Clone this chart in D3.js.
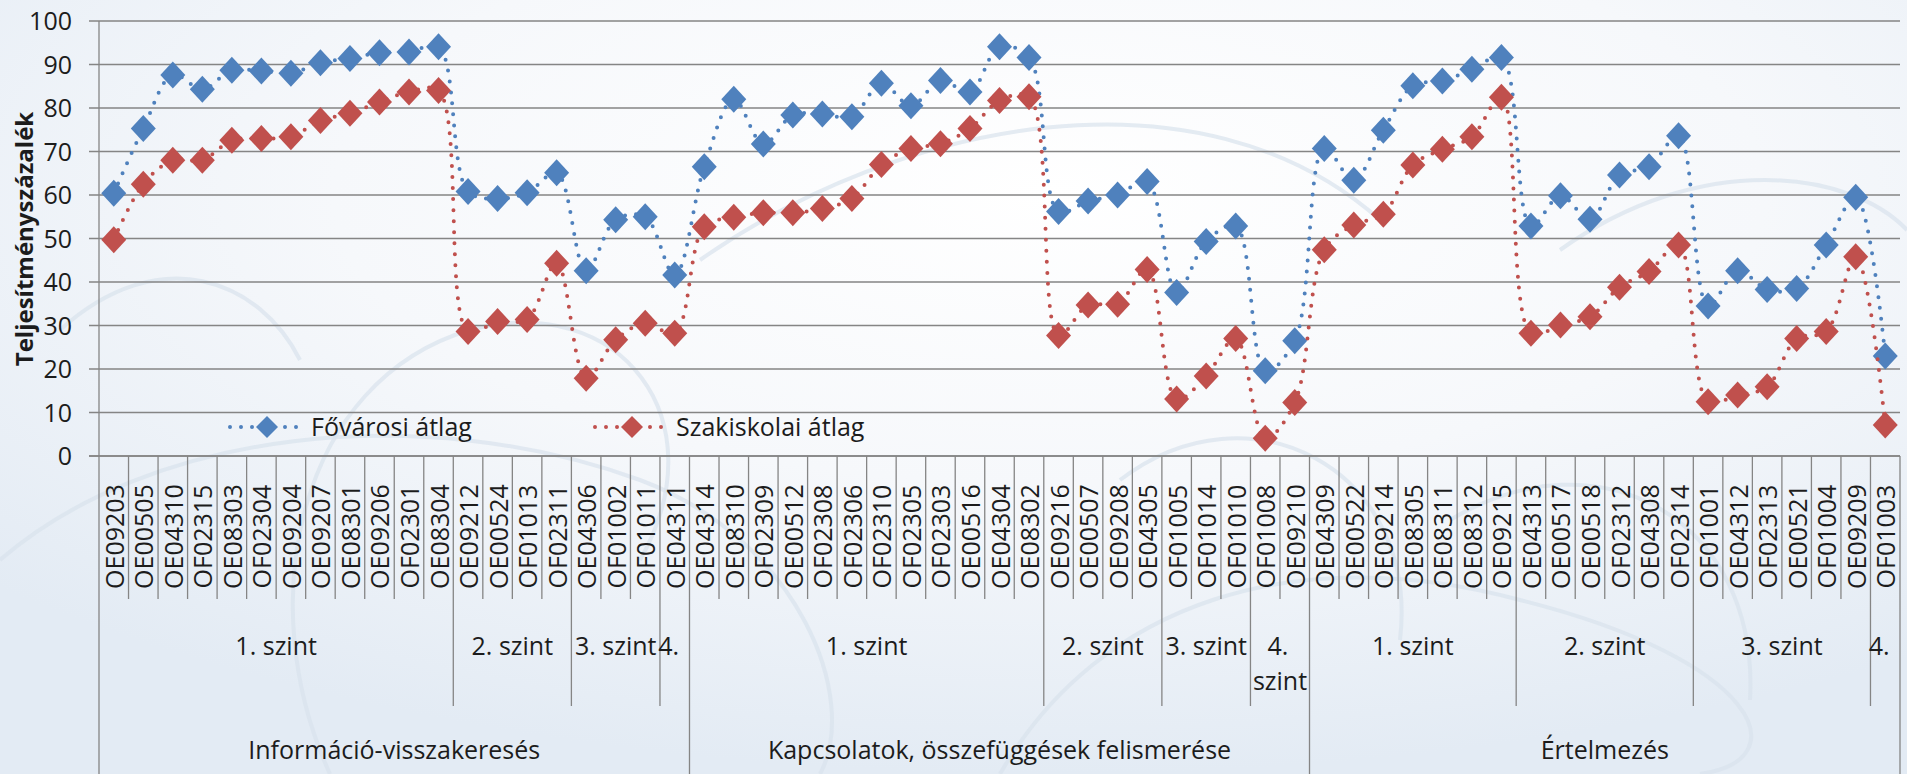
<!DOCTYPE html>
<html>
<head>
<meta charset="utf-8">
<script src="https://cdn.jsdelivr.net/npm/d3@7"></script>
<style>
  body { margin: 0; overflow: hidden; background: #fff; }
  text { font-family: "Open Sans", sans-serif; fill: #1c1c1c; }
</style>
</head>
<body>
<script>
const categories = [
  "OE09203","OE00505","OE04310","OF02315","OE08303","OF02304","OE09204","OE09207","OE08301","OE09206",
  "OF02301","OE08304","OE09212","OE00524","OF01013","OF02311","OE04306","OF01002","OF01011","OE04311",
  "OE04314","OE08310","OF02309","OE00512","OF02308","OF02306","OF02310","OF02305","OF02303","OE00516",
  "OE04304","OE08302","OE09216","OE00507","OE09208","OE04305","OF01005","OF01014","OF01010","OF01008",
  "OE09210","OE04309","OE00522","OE09214","OE08305","OE08311","OE08312","OE09215","OE04313","OE00517",
  "OE00518","OF02312","OE04308","OF02314","OF01001","OE04312","OF02313","OE00521","OF01004","OE09209",
  "OF01003"
];

const fovarosi = [
  60.4, 75.3, 87.6, 84.3, 88.7, 88.5, 88.0, 90.4, 91.4, 92.7,
  92.9, 94.1, 60.8, 59.2, 60.5, 65.1, 42.6, 54.3, 55.0, 41.6,
  66.5, 82.0, 71.7, 78.4, 78.6, 78.0, 85.7, 80.5, 86.3, 83.7,
  94.1, 91.6, 56.2, 58.6, 60.0, 63.1, 37.6, 49.3, 52.9, 19.6,
  26.5, 70.7, 63.4, 74.9, 85.1, 86.2, 88.9, 91.6, 52.9, 59.8,
  54.4, 64.6, 66.5, 73.6, 34.5, 42.6, 38.3, 38.5, 48.5, 59.5,
  23.0
];

const szakiskolai = [
  49.7, 62.5, 68.0, 68.0, 72.6, 73.0, 73.4, 77.1, 78.8, 81.4,
  83.7, 84.0, 28.6, 30.9, 31.4, 44.3, 17.9, 26.7, 30.5, 28.2,
  52.7, 54.9, 55.9, 55.9, 56.9, 59.2, 67.0, 70.7, 71.8, 75.3,
  81.7, 82.6, 27.7, 34.7, 34.9, 42.9, 13.1, 18.4, 27.0, 4.1,
  12.3, 47.4, 53.1, 55.6, 66.9, 70.5, 73.4, 82.5, 28.2, 30.1,
  32.0, 38.8, 42.4, 48.5, 12.5, 14.0, 15.9, 27.0, 28.6, 45.8,
  7.1
];

// [label, number of categories]
const szintek = [
  ["1. szint", 12], ["2. szint", 4], ["3. szint", 3], ["4. szint", 1],
  ["1. szint", 12], ["2. szint", 4], ["3. szint", 3], ["4. szint", 2],
  ["1. szint", 7], ["2. szint", 6], ["3. szint", 6], ["4. szint", 1]
];
const teruletek = [
  ["Információ-visszakeresés", 20],
  ["Kapcsolatok, összefüggések felismerése", 21],
  ["Értelmezés", 20]
];

const yTicks = [0, 10, 20, 30, 40, 50, 60, 70, 80, 90, 100];
const seriesNames = ["Fővárosi átlag", "Szakiskolai átlag"];
const seriesColors = ["#4F81BD", "#C0504D"];
const yTitle = "Teljesítményszázalék";

const width = 1907, height = 774;
const plotLeft = 99, plotRight = 1900, plotTop = 21, plotBottom = 456;

const svg = d3.select("body").append("svg")
  .attr("width", width)
  .attr("height", height);

// background wash
const defs = svg.append("defs");
const grad = defs.append("radialGradient").attr("id", "bg")
  .attr("cx", "0.55").attr("cy", "0.25").attr("r", "0.75");
grad.append("stop").attr("offset", "0").attr("stop-color", "#ffffff");
grad.append("stop").attr("offset", "0.5").attr("stop-color", "#f6f8fb");
grad.append("stop").attr("offset", "1").attr("stop-color", "#e3ebf4");
svg.append("rect").attr("width", width).attr("height", height).attr("fill", "url(#bg)");

// faint decorative swirls
const swirls = [
  "M0,560 C150,430 420,400 640,480 C800,540 860,700 820,774",
  "M330,774 C250,600 300,380 470,330 C620,290 720,420 640,560",
  "M700,260 C900,120 1200,60 1380,220",
  "M1000,774 C1100,600 1300,540 1520,600 C1760,660 1800,760 1700,774",
  "M1450,520 C1600,430 1760,520 1750,700",
  "M60,330 C160,240 260,280 300,360",
  "M1120,480 C1250,380 1420,470 1400,640",
  "M1560,250 C1700,150 1850,170 1907,230"
];
svg.append("g").selectAll("path").data(swirls).join("path")
  .attr("d", d => d)
  .attr("fill", "none")
  .attr("stroke", "#d9e2ec")
  .attr("stroke-width", 4)
  .attr("opacity", 0.7);

const x = d3.scaleBand()
  .domain(d3.range(categories.length))
  .range([plotLeft, plotRight]);

const y = d3.scaleLinear()
  .domain([0, 100])
  .range([plotBottom, plotTop]);

// gridlines
svg.append("g").selectAll("line").data(yTicks).join("line")
  .attr("x1", plotLeft - 10).attr("x2", plotRight)
  .attr("y1", d => y(d)).attr("y2", d => y(d))
  .attr("stroke", "#858585").attr("stroke-width", 1.6);

// y axis labels
svg.append("g").selectAll("text").data(yTicks).join("text")
  .attr("x", 72).attr("y", d => y(d))
  .attr("dy", "0.36em")
  .attr("text-anchor", "end")
  .style("font-size", "25px")
  .text(d => d);

// y axis title
svg.append("text")
  .attr("transform", `translate(33,239) rotate(-90)`)
  .attr("text-anchor", "middle")
  .style("font-size", "24px")
  .style("font-weight", "bold")
  .text(yTitle);

// category axis: boundaries and their depth
const lvl2Bounds = new Set([0]);
let acc = 0;
szintek.forEach(([, n]) => { acc += n; lvl2Bounds.add(acc); });
const lvl3Bounds = new Set([0]);
acc = 0;
teruletek.forEach(([, n]) => { acc += n; lvl3Bounds.add(acc); });

const bounds = d3.range(categories.length + 1);
const bx = i => (i === categories.length ? plotRight : x(i));
const axisG = svg.append("g").attr("stroke", "#858585").attr("stroke-width", 1.3);
axisG.selectAll("line").data(bounds).join("line")
  .attr("x1", bx).attr("x2", bx)
  .attr("y1", i => (i === 0 ? plotTop : plotBottom))
  .attr("y2", i => lvl3Bounds.has(i) ? height : lvl2Bounds.has(i) ? 706 : 599);
axisG.append("line")
  .attr("x1", plotLeft - 10).attr("x2", plotRight)
  .attr("y1", plotBottom).attr("y2", plotBottom);

// level 1 labels (rotated)
svg.append("g").selectAll("text").data(categories).join("text")
  .attr("transform", (d, i) => `translate(${x(i) + x.bandwidth() / 2 + 1},536.5) rotate(-90)`)
  .attr("text-anchor", "middle")
  .attr("dy", "0.36em")
  .style("font-size", "25px")
  .text(d => d);

// level 2 labels
let start = 0;
const lvl2 = szintek.map(([label, n]) => {
  const o = { label, x0: x(start), x1: start + n === categories.length ? plotRight : x(start + n), n };
  start += n;
  return o;
});
const l2g = svg.append("g");
lvl2.forEach(d => {
  const cx = (d.x0 + d.x1) / 2;
  const t = l2g.append("text")
    .attr("text-anchor", "middle")
    .style("font-size", "25px");
  if (d.n === 1) {
    t.attr("x", cx - 6).attr("y", 655).text(d.label.split(" ")[0]);
  } else if (d.n === 2) {
    const parts = d.label.split(" ");
    t.append("tspan").attr("x", cx - 2).attr("y", 655).text(parts[0]);
    t.append("tspan").attr("x", cx).attr("y", 690).text(parts[1]);
  } else {
    t.attr("x", cx).attr("y", 655).text(d.label);
  }
});

// level 3 labels
start = 0;
svg.append("g").selectAll("text").data(teruletek).join("text")
  .attr("x", d => {
    const x0 = x(start);
    start += d[1];
    const x1 = start === categories.length ? plotRight : x(start);
    return (x0 + x1) / 2;
  })
  .attr("y", 759)
  .attr("text-anchor", "middle")
  .style("font-size", "25px")
  .text(d => d[0]);

// series
const diamond = "M0,-13.5L12.5,0L0,13.5L-12.5,0Z";
const line = d3.line()
  .x((d, i) => x(i) + x.bandwidth() / 2)
  .y(d => y(d))
  .curve(d3.curveCatmullRom.alpha(0.5));

[fovarosi, szakiskolai].forEach((values, s) => {
  const g = svg.append("g");
  g.append("path")
    .attr("d", line(values))
    .attr("fill", "none")
    .attr("stroke", seriesColors[s])
    .attr("stroke-width", 4)
    .attr("stroke-linecap", "round")
    .attr("stroke-dasharray", "0 11");
  g.selectAll("path.m").data(values).join("path")
    .attr("class", "m")
    .attr("d", diamond)
    .attr("transform", (d, i) => `translate(${x(i) + x.bandwidth() / 2},${y(d)})`)
    .attr("fill", seriesColors[s]);
});

// legend
const legendX = [230, 595];
seriesNames.forEach((name, s) => {
  const g = svg.append("g").attr("transform", `translate(${legendX[s]},427)`);
  g.append("line")
    .attr("x1", 0).attr("x2", 68)
    .attr("stroke", seriesColors[s])
    .attr("stroke-width", 4)
    .attr("stroke-linecap", "round")
    .attr("stroke-dasharray", "0 11");
  g.append("path")
    .attr("d", "M0,-11L11,0L0,11L-11,0Z")
    .attr("transform", "translate(37,0)")
    .attr("fill", seriesColors[s]);
  g.append("text")
    .attr("x", 81).attr("y", 0).attr("dy", "0.36em")
    .style("font-size", "25px")
    .text(name);
});
</script>
</body>
</html>
